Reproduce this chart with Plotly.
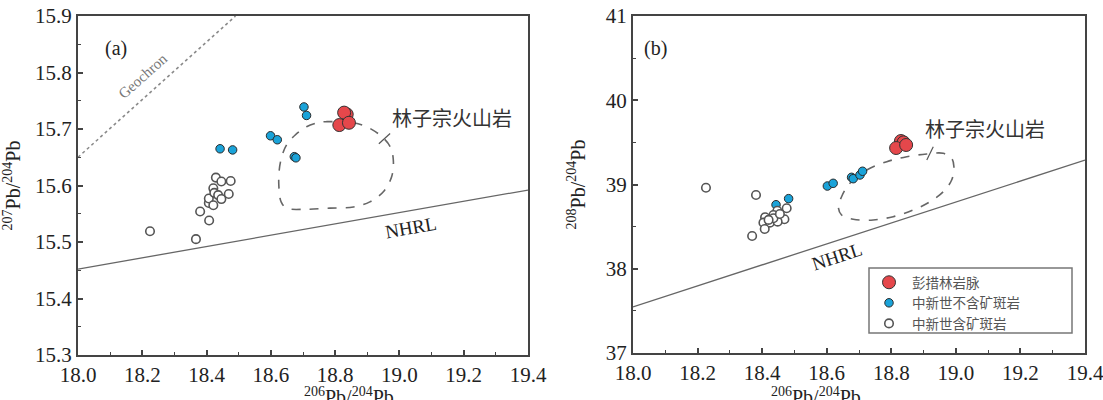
import plotly.graph_objects as go

W, H = 1103, 400

# ---------------- Panel (a): 206Pb/204Pb vs 207Pb/204Pb ----------------
a_red_x = [18.836, 18.828, 18.813, 18.843]
a_red_y = [15.726, 15.729, 15.707, 15.711]
a_blue_x = [18.703, 18.711, 18.599, 18.620, 18.442, 18.481, 18.673, 18.678]
a_blue_y = [15.739, 15.724, 15.688, 15.681, 15.665, 15.663, 15.651, 15.649]
a_gray_x = [18.224, 18.367, 18.380, 18.408, 18.407, 18.407, 18.421, 18.421,
            18.424, 18.429, 18.436, 18.446, 18.446, 18.469, 18.475]
a_gray_y = [15.519, 15.505, 15.554, 15.538, 15.569, 15.577, 15.565, 15.595,
            15.587, 15.614, 15.583, 15.607, 15.576, 15.585, 15.608]

a_nhrl_x = [18.0, 19.4]
a_nhrl_y = [15.452, 15.592]
a_geo_x = [18.0, 18.49]
a_geo_y = [15.650, 15.900]

a_field_x = [18.774, 18.857, 18.898, 18.940, 18.971, 18.981, 18.976, 18.950, 18.908,
             18.857, 18.784, 18.711, 18.649, 18.632, 18.625, 18.626, 18.634, 18.649,
             18.675, 18.711, 18.753, 18.774]
a_field_y = [15.713, 15.711, 15.704, 15.689, 15.669, 15.645, 15.616, 15.589, 15.571,
             15.562, 15.560, 15.558, 15.560, 15.571, 15.598, 15.627, 15.651, 15.672,
             15.689, 15.704, 15.712, 15.713]
a_leader_x = [18.936, 18.971]
a_leader_y = [15.674, 15.692]

# ---------------- Panel (b): 206Pb/204Pb vs 208Pb/204Pb ----------------
b_red_x = [18.830, 18.838, 18.815, 18.846]
b_red_y = [39.516, 39.500, 39.433, 39.469]
b_blue_x = [18.602, 18.620, 18.677, 18.682, 18.703, 18.711, 18.443, 18.482]
b_blue_y = [38.982, 39.014, 39.085, 39.069, 39.113, 39.157, 38.760, 38.832]
b_gray_x = [18.226, 18.381, 18.369, 18.476, 18.469, 18.447, 18.435, 18.409,
            18.404, 18.424, 18.448, 18.408, 18.435, 18.420, 18.455]
b_gray_y = [38.962, 38.875, 38.389, 38.718, 38.587, 38.689, 38.638, 38.611,
            38.547, 38.547, 38.559, 38.472, 38.599, 38.580, 38.650]

b_nhrl_x = [18.0, 19.4]
b_nhrl_y = [37.548, 39.290]

b_field_x = [18.677, 18.724, 18.786, 18.848, 18.910, 18.961, 18.987, 18.994, 18.987,
             18.961, 18.920, 18.868, 18.806, 18.744, 18.682, 18.646, 18.636, 18.646,
             18.662, 18.677]
b_field_y = [39.033, 39.172, 39.271, 39.330, 39.362, 39.370, 39.311, 39.211, 39.053,
             38.915, 38.796, 38.697, 38.618, 38.579, 38.587, 38.638, 38.736, 38.855,
             38.967, 39.033]
b_leader_x = [18.910, 18.930]
b_leader_y = [39.291, 39.449]

legend_names = ["彭措林岩脉", "中新世不含矿斑岩", "中新世含矿斑岩"]
field_label = "林子宗火山岩"
x_title = "<sup>206</sup>Pb/<sup>204</sup>Pb"
ya_title = "<sup>207</sup>Pb/<sup>204</sup>Pb"
yb_title = "<sup>208</sup>Pb/<sup>204</sup>Pb"

# ---------------- styles ----------------
SERIF = "Liberation Serif"
CJK = "Noto Sans CJK SC"
red_marker = dict(size=13, color="#e5474b", line=dict(color="#333333", width=1))
blue_marker = dict(size=8.5, color="#1aa3d9", line=dict(color="#2a2a2a", width=1))
gray_marker = dict(size=8.5, color="white", line=dict(color="#555555", width=1.6))

fig = go.Figure()

def add_panel(xa, ya, red, blue, gray, nhrl, field, leader, legend):
    fig.add_trace(go.Scatter(x=nhrl[0], y=nhrl[1], mode="lines", xaxis=xa, yaxis=ya,
                             line=dict(color="#666666", width=1.3), showlegend=False,
                             hoverinfo="skip"))
    fig.add_trace(go.Scatter(x=field[0], y=field[1], mode="lines", xaxis=xa, yaxis=ya,
                             line=dict(color="#666666", width=1.6, dash="dash", shape="spline"),
                             showlegend=False, hoverinfo="skip"))
    fig.add_trace(go.Scatter(x=leader[0], y=leader[1], mode="lines", xaxis=xa, yaxis=ya,
                             line=dict(color="#555555", width=1.2), showlegend=False,
                             hoverinfo="skip"))
    fig.add_trace(go.Scatter(x=red[0], y=red[1], mode="markers", xaxis=xa, yaxis=ya,
                             marker=red_marker, name=legend_names[0], showlegend=legend))
    fig.add_trace(go.Scatter(x=blue[0], y=blue[1], mode="markers", xaxis=xa, yaxis=ya,
                             marker=blue_marker, name=legend_names[1], showlegend=legend))
    fig.add_trace(go.Scatter(x=gray[0], y=gray[1], mode="markers", xaxis=xa, yaxis=ya,
                             marker=gray_marker, name=legend_names[2], showlegend=legend))

# Geochron line (panel a)
fig.add_trace(go.Scatter(x=a_geo_x, y=a_geo_y, mode="lines", xaxis="x", yaxis="y",
                         line=dict(color="#8a8a8a", width=1.6, dash="dot"),
                         showlegend=False, hoverinfo="skip"))

add_panel("x", "y", (a_red_x, a_red_y), (a_blue_x, a_blue_y), (a_gray_x, a_gray_y),
          (a_nhrl_x, a_nhrl_y), (a_field_x, a_field_y), (a_leader_x, a_leader_y), False)
add_panel("x2", "y2", (b_red_x, b_red_y), (b_blue_x, b_blue_y), (b_gray_x, b_gray_y),
          (b_nhrl_x, b_nhrl_y), (b_field_x, b_field_y), (b_leader_x, b_leader_y), True)

def axis(rng, dtick, minor, domain, fmt, anchor, title=None):
    d = dict(range=rng, dtick=dtick, tick0=rng[0], tickformat=fmt, domain=domain,
             anchor=anchor, showline=True, linecolor="#444444", linewidth=2,
             mirror=True, ticks="inside", ticklen=5, tickwidth=1.5, tickcolor="#444444",
             showgrid=False, zeroline=False, automargin=False, ticklabeloverflow="allow",
             tickfont=dict(family=SERIF, size=21, color="#222222"),
             minor=dict(dtick=minor, ticks="inside", ticklen=3, tickwidth=1.3,
                        tickcolor="#444444", showgrid=False))
    if title:
        d["title"] = dict(text=title, font=dict(family=SERIF, size=20, color="#222222"))
    return d

fig.update_layout(
    width=W, height=H, margin=dict(l=0, r=0, t=0, b=0, autoexpand=False),
    paper_bgcolor="white", plot_bgcolor="white",
    xaxis=axis([18.0, 19.4], 0.2, 0.1, [78 / W, 528 / W], ".1f", "y"),
    yaxis=axis([15.3, 15.9], 0.1, 0.05, [1 - 355 / H, 1 - 16 / H], ".1f", "x", ya_title),
    xaxis2=axis([18.0, 19.4], 0.2, 0.1, [633 / W, 1085 / W], ".1f", "y2"),
    yaxis2=axis([37, 41], 1, 0.5, [1 - 353 / H, 1 - 16 / H], "d", "x2", yb_title),
    showlegend=True,
    legend=dict(x=866 / W, y=1 - 267 / H, xanchor="left", yanchor="top",
                bgcolor="rgba(0,0,0,0)", borderwidth=0,
                font=dict(family=CJK, size=13.5, color="#555555"),
                itemsizing="trace", itemwidth=36, tracegroupgap=0),
    shapes=[dict(type="rect", xref="paper", yref="paper",
                 x0=869 / W, x1=1072 / W, y0=1 - 333 / H, y1=1 - 268 / H,
                 line=dict(color="#777777", width=1.5), fillcolor="rgba(0,0,0,0)")],
)

ann = [
    dict(text="(a)", x=103 / W, y=1 - 35 / H, xref="paper", yref="paper",
         font=dict(family=SERIF, size=20, color="#222")),
    dict(text="(b)", x=655 / W, y=1 - 35 / H, xref="paper", yref="paper",
         font=dict(family=SERIF, size=20, color="#222")),
    dict(text=x_title, x=302 / W, y=1 - 396 / H, xref="paper", yref="paper",
         yanchor="middle", font=dict(family=SERIF, size=20, color="#222")),
    dict(text=x_title, x=863 / W, y=1 - 396 / H, xref="paper", yref="paper",
         yanchor="middle", font=dict(family=SERIF, size=20, color="#222")),
    dict(text="Geochron", x=18.202, y=15.794, xref="x", yref="y", textangle=-41.7,
         font=dict(family=SERIF, size=15, color="#777")),
    dict(text="NHRL", x=19.036, y=15.525, xref="x", yref="y", textangle=-10,
         font=dict(family=SERIF, size=19, color="#222")),
    dict(text="NHRL", x=18.632, y=38.151, xref="x2", yref="y2", textangle=-18,
         font=dict(family=SERIF, size=19, color="#222")),
    dict(text=field_label, x=19.164, y=15.721, xref="x", yref="y",
         font=dict(family=CJK, size=20, color="#333")),
    dict(text=field_label, x=19.089, y=39.67, xref="x2", yref="y2",
         font=dict(family=CJK, size=20, color="#333")),
]
for a in ann:
    a["showarrow"] = False
fig.update_layout(annotations=ann)

fig.write_html("out.html")
